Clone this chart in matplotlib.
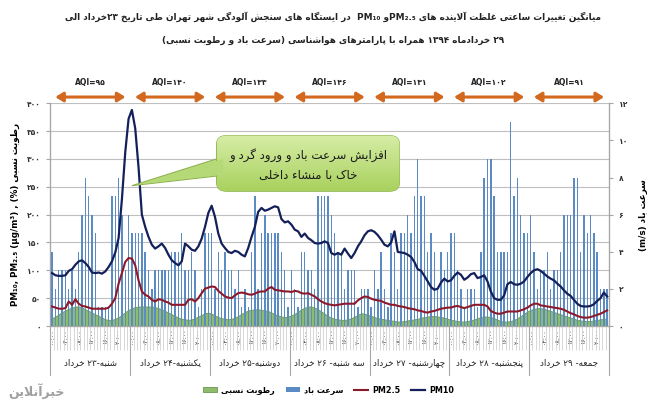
import numpy as np
import matplotlib
matplotlib.use('Agg')
import matplotlib.pyplot as plt
from matplotlib.patches import FancyBboxPatch, Polygon
from matplotlib.colors import LinearSegmentedColormap

plt.rcParams['font.family'] = ['DejaVu Sans']

# hourly averages, 7 days x 24 hours
pm10 = [95, 91, 90, 90, 91, 99, 102, 110, 116, 118, 113, 106, 96, 95, 96, 94, 98, 106, 116, 132, 158, 228, 312, 372,
        388, 355, 285, 200, 178, 160, 146, 139, 143, 148, 140, 128, 118, 113, 109, 116, 148, 143, 137, 135, 143, 157, 178, 203,
        216, 196, 166, 148, 140, 133, 131, 135, 133, 128, 125, 140, 160, 178, 205, 212, 207, 209, 212, 215, 213, 192, 186, 188,
        182, 173, 170, 160, 166, 158, 154, 149, 148, 149, 152, 149, 131, 128, 131, 128, 139, 130, 122, 131, 143, 152, 163, 170,
        172, 169, 163, 155, 146, 143, 150, 170, 133, 132, 131, 128, 124, 115, 102, 99, 90, 80, 70, 65, 67, 78, 85, 80,
        82, 90, 96, 92, 83, 87, 93, 95, 86, 88, 91, 80, 62, 50, 47, 47, 55, 75, 79, 75, 74, 76, 80, 88,
        95, 100, 102, 99, 94, 89, 85, 82, 76, 71, 64, 58, 54, 47, 40, 36, 35, 35, 36, 39, 45, 50, 60, 53]
pm25 = [35, 33, 31, 31, 32, 44, 38, 48, 40, 36, 35, 33, 31, 31, 31, 31, 31, 33, 40, 50, 76, 95, 115, 122,
        121, 109, 82, 62, 56, 53, 47, 44, 48, 47, 44, 42, 38, 38, 38, 38, 38, 47, 48, 44, 50, 59, 67, 69,
        71, 70, 63, 58, 53, 51, 50, 55, 59, 60, 59, 57, 56, 58, 61, 62, 62, 67, 70, 65, 64, 63, 62, 62,
        61, 63, 62, 59, 58, 59, 56, 53, 48, 44, 41, 39, 38, 37, 38, 39, 40, 40, 40, 40, 46, 50, 53, 52,
        49, 47, 46, 45, 42, 40, 38, 38, 36, 35, 34, 32, 31, 30, 28, 27, 25, 24, 26, 27, 29, 31, 32, 33,
        33, 35, 36, 34, 32, 34, 36, 38, 38, 38, 38, 35, 27, 24, 22, 22, 24, 26, 26, 26, 26, 28, 30, 33,
        37, 40, 40, 37, 36, 35, 34, 33, 32, 31, 29, 26, 23, 21, 18, 16, 15, 15, 16, 18, 20, 22, 25, 28]
humidity = [14, 17, 21, 25, 28, 31, 33, 35, 35, 33, 30, 27, 24, 21, 18, 15, 12, 11, 11, 13, 16, 20, 25, 29,
            32, 34, 35, 35, 35, 35, 35, 34, 32, 30, 27, 24, 21, 18, 15, 13, 12, 11, 12, 14, 17, 20, 23, 24,
            22, 19, 16, 14, 13, 12, 13, 15, 18, 22, 25, 28, 29, 30, 30, 29, 28, 27, 24, 21, 19, 17, 16, 17,
            19, 22, 26, 30, 33, 35, 35, 33, 30, 26, 22, 18, 15, 13, 12, 11, 11, 12, 14, 17, 20, 23, 22, 20,
            18, 16, 14, 13, 12, 11, 10, 9, 8, 8, 9, 10, 11, 12, 13, 15, 16, 17, 18, 18, 17, 16, 15, 13,
            11, 10, 9, 8, 8, 9, 10, 12, 14, 16, 17, 17, 16, 14, 11, 9, 8, 8, 9, 11, 14, 18, 22, 26,
            29, 31, 32, 32, 31, 29, 27, 25, 23, 21, 19, 17, 15, 13, 11, 10, 9, 9, 9, 10, 11, 12, 13, 13]
wind = [4, 2, 3, 3, 3, 2, 3, 2, 4, 6, 8, 7, 6, 5, 1, 1, 1, 1, 7, 7, 8, 6, 3, 6,
        5, 5, 5, 5, 4, 3, 2, 3, 3, 3, 3, 3, 4, 4, 4, 5, 3, 3, 4, 3, 1, 2, 5, 5,
        5, 2, 4, 3, 4, 3, 3, 2, 3, 1, 2, 1, 4, 7, 2, 5, 6, 5, 5, 5, 5, 4, 3, 1,
        3, 2, 1, 4, 4, 3, 3, 2, 7, 7, 7, 7, 6, 5, 4, 4, 2, 3, 3, 3, 1, 2, 2, 2,
        1, 3, 2, 4, 2, 1, 5, 4, 2, 5, 5, 6, 5, 7, 9, 7, 7, 4, 5, 4, 2, 4, 3, 4,
        5, 5, 3, 2, 1, 2, 2, 2, 1, 4, 8, 9, 9, 7, 4, 4, 4, 4, 11, 7, 8, 6, 5, 5,
        6, 4, 2, 3, 3, 4, 2, 3, 3, 4, 6, 6, 6, 8, 8, 4, 6, 5, 6, 5, 4, 2, 2, 2]

days = ['شنبه-۲۳ خرداد', 'یکشنبه-۲۴ خرداد', 'دوشنبه-۲۵ خرداد', 'سه شنبه- ۲۶ خرداد',
        'چهارشنبه- ۲۷ خرداد', 'پنجشنبه- ۲۸ خرداد', 'جمعه- ۲۹ خرداد']
aqi = ['۹۵', '۱۴۰', '۱۳۳', '۱۴۶', '۱۳۱', '۱۰۲', '۹۱']
hour_labels = ['۰۰:۰۰', '۰۴:۰۰', '۰۸:۰۰', '۱۲:۰۰', '۱۶:۰۰', '۲۰:۰۰']
left_ticks = [0, 50, 100, 150, 200, 250, 300, 350, 400]
right_ticks = [0, 2, 4, 6, 8, 10, 12]

title1 = 'میانگین تغییرات ساعتی غلظت آلاینده های PM₂.₅و PM₁₀  در ایستگاه های سنجش آلودگی شهر تهران طی تاریخ ۲۳خرداد الی'
title2 = '۲۹ خردادماه ۱۳۹۴ همراه با پارامترهای هواشناسی (سرعت باد و رطوبت نسبی)'
note1 = 'افزایش سرعت باد و ورود گرد و'
note2 = 'خاک با منشاء داخلی'

# --- minimal Persian shaping + right-to-left ordering (matplotlib has none) ---
_F = {
    'ء': (0xFE80, None, None, None), 'آ': (0xFE81, 0xFE82, None, None),
    'أ': (0xFE83, 0xFE84, None, None), 'ئ': (0xFE89, 0xFE8A, 0xFE8B, 0xFE8C),
    'ا': (0xFE8D, 0xFE8E, None, None), 'ب': (0xFE8F, 0xFE90, 0xFE91, 0xFE92),
    'ت': (0xFE95, 0xFE96, 0xFE97, 0xFE98), 'ث': (0xFE99, 0xFE9A, 0xFE9B, 0xFE9C),
    'ج': (0xFE9D, 0xFE9E, 0xFE9F, 0xFEA0), 'ح': (0xFEA1, 0xFEA2, 0xFEA3, 0xFEA4),
    'خ': (0xFEA5, 0xFEA6, 0xFEA7, 0xFEA8), 'د': (0xFEA9, 0xFEAA, None, None),
    'ذ': (0xFEAB, 0xFEAC, None, None), 'ر': (0xFEAD, 0xFEAE, None, None),
    'ز': (0xFEAF, 0xFEB0, None, None), 'س': (0xFEB1, 0xFEB2, 0xFEB3, 0xFEB4),
    'ش': (0xFEB5, 0xFEB6, 0xFEB7, 0xFEB8), 'ص': (0xFEB9, 0xFEBA, 0xFEBB, 0xFEBC),
    'ض': (0xFEBD, 0xFEBE, 0xFEBF, 0xFEC0), 'ط': (0xFEC1, 0xFEC2, 0xFEC3, 0xFEC4),
    'ظ': (0xFEC5, 0xFEC6, 0xFEC7, 0xFEC8), 'ع': (0xFEC9, 0xFECA, 0xFECB, 0xFECC),
    'غ': (0xFECD, 0xFECE, 0xFECF, 0xFED0), 'ف': (0xFED1, 0xFED2, 0xFED3, 0xFED4),
    'ق': (0xFED5, 0xFED6, 0xFED7, 0xFED8), 'ك': (0xFED9, 0xFEDA, 0xFEDB, 0xFEDC),
    'ل': (0xFEDD, 0xFEDE, 0xFEDF, 0xFEE0), 'م': (0xFEE1, 0xFEE2, 0xFEE3, 0xFEE4),
    'ن': (0xFEE5, 0xFEE6, 0xFEE7, 0xFEE8), 'ه': (0xFEE9, 0xFEEA, 0xFEEB, 0xFEEC),
    'و': (0xFEED, 0xFEEE, None, None), 'ي': (0xFEF1, 0xFEF2, 0xFEF3, 0xFEF4),
    'پ': (0xFB56, 0xFB57, 0xFB58, 0xFB59), 'چ': (0xFB7A, 0xFB7B, 0xFB7C, 0xFB7D),
    'ژ': (0xFB8A, 0xFB8B, None, None), 'ک': (0xFB8E, 0xFB8F, 0xFB90, 0xFB91),
    'گ': (0xFB92, 0xFB93, 0xFB94, 0xFB95), 'ی': (0xFBFC, 0xFBFD, 0xFBFE, 0xFBFF),
}
_LAM_ALEF = {'ا': (0xFEFB, 0xFEFC), 'آ': (0xFEF5, 0xFEF6), 'أ': (0xFEF7, 0xFEF8)}
_MIRROR = str.maketrans('()', ')(')


def _dual(c):
    return c in _F and _F[c][2] is not None


def _shape(s):
    out, k = [], 0
    while k < len(s):
        c = s[k]
        if c not in _F:
            out.append(c)
            k += 1
            continue
        pj = k > 0 and _dual(s[k - 1])
        nxt = s[k + 1] if k + 1 < len(s) else ''
        if c == 'ل' and nxt in _LAM_ALEF:
            iso, fin = _LAM_ALEF[nxt]
            out.append(chr(fin if pj else iso))
            k += 2
            continue
        f = _F[c]
        nj = _dual(c) and nxt in _F and _F[nxt][1] is not None
        if f[1] is None:
            pj = False
        if pj and nj:
            g = f[3]
        elif pj:
            g = f[1]
        elif nj:
            g = f[2]
        else:
            g = f[0]
        out.append(chr(g))
        k += 1
    return ''.join(out)


def _kind(c):
    o = ord(c)
    if 0x06F0 <= o <= 0x06F9 or 0x2080 <= o <= 0x2089 or (c.isascii() and c.isalnum()) or c in 'μ²³':
        return 'L'
    if 0x0600 <= o <= 0x06FF or 0xFB50 <= o <= 0xFDFF or 0xFE70 <= o <= 0xFEFF:
        return 'R'
    return 'N'


def fa(s):
    runs = []
    for c in _shape(s):
        t = _kind(c)
        if runs and runs[-1][0] == t:
            runs[-1][1] += c
        else:
            runs.append([t, c])
    for j, r in enumerate(runs):
        if r[0] == 'N':
            prv = runs[j - 1][0] if j > 0 else 'R'
            nxt = runs[j + 1][0] if j + 1 < len(runs) else 'R'
            r[0] = 'L' if prv == 'L' and nxt == 'L' else 'R'
    merged = []
    for t, txt in runs:
        if merged and merged[-1][0] == t:
            merged[-1][1] += txt
        else:
            merged.append([t, txt])
    return ''.join(txt[::-1].translate(_MIRROR) if t == 'R' else txt for t, txt in reversed(merged))


def fa_num(v):
    return str(v).translate(str.maketrans('0123456789', '۰۱۲۳۴۵۶۷۸۹'))


# --- figure ---
x = np.arange(len(pm10))
n_days = len(days)
fig = plt.figure(figsize=(6.47, 4.09), dpi=100)
ax = fig.add_axes([0.078, 0.203, 0.863, 0.5445])
axw = ax.twinx()
axl = ax.twinx()

c_grid = '#BFBFBF'
area = ax.fill_between(x, humidity, color='#8FBB6C', edgecolor='#6A984C', lw=0.6, zorder=2)
ax.set_ylim(0, 400)
ax.set_xlim(-0.5, len(x) - 0.5)
ax.set_yticks(left_ticks)
ax.set_yticklabels([fa_num(v) for v in left_ticks], fontsize=5.5, fontweight='bold', color='#333333')
ax.yaxis.grid(True, color=c_grid, lw=0.8)
ax.set_axisbelow(True)

bars = axw.bar(x, wind, width=0.42, color='#5B8BC4', zorder=3)
axw.set_ylim(0, 12)
axw.set_yticks(right_ticks)
axw.set_yticklabels([fa_num(v) for v in right_ticks], fontsize=5.5, fontweight='bold', color='#333333')
axw.set_ylabel('(m/s) ' + fa('سرعت باد'), fontsize=6.3, fontweight='bold', labelpad=8)

l25, = axl.plot(x, pm25, color='#8B1A2B', lw=1.5, zorder=5)
l10, = axl.plot(x, pm10, color='#14205A', lw=1.6, zorder=6)
axl.set_ylim(0, 400)
axl.set_xlim(-0.5, len(x) - 0.5)
axl.set_yticks([])

for a in (ax, axw, axl):
    a.spines['top'].set_visible(False)
    for side in ('left', 'right', 'bottom'):
        a.spines[side].set_color('#A6A6A6')
        a.spines[side].set_linewidth(0.8)
ax.tick_params(axis='y', length=3, color='#A6A6A6', pad=4)
axw.tick_params(axis='y', length=3, color='#A6A6A6', pad=4)

ax.set_ylabel('PM₁₀, PM₂.₅ (μg/m³) , (%) ' + fa('رطوبت نسبی'), fontsize=6.3, fontweight='bold', labelpad=5)

# category axis: hours + days
major = [d * 24 + h for d in range(n_days) for h in range(0, 24, 4)]
ax.set_xticks(major)
ax.set_xticklabels(hour_labels * n_days, rotation=90, fontsize=4.5, color='#333333')
ax.set_xticks(np.arange(-0.5, len(x), 1), minor=True)
ax.tick_params(axis='x', which='major', length=0, pad=2)
ax.tick_params(axis='x', which='minor', length=17, color='#C8C8C8', width=0.5)
trans = ax.get_xaxis_transform()
for d in range(n_days + 1):
    ax.plot([d * 24 - 0.5] * 2, [0, -0.22], transform=trans, color='#A6A6A6', lw=0.8, clip_on=False)
for d in range(n_days):
    ax.text(d * 24 + 11.5, -0.165, fa(days[d]), transform=trans, ha='center', va='center',
            fontsize=6.3, color='#222222')
    ax.annotate('', xy=(d * 24 + 22.9, 1.028), xytext=(d * 24 + 0.1, 1.028), xycoords=trans,
                textcoords=trans, annotation_clip=False,
                arrowprops=dict(arrowstyle='<|-|>,head_length=0.45,head_width=0.28', color='#D2691E', lw=2.2))
    ax.text(d * 24 + 11.5, 1.095, 'AQI=' + aqi[d], transform=trans, ha='center', va='center',
            fontsize=5.5, fontweight='bold', color='#222222')

# callout
bx0, bx1, by0, by1 = 49.5, 104.5, 242, 342
tip = (24, 252)
green = LinearSegmentedColormap.from_list('g', ['#A9D15E', '#D6EDA6'])
axl.add_patch(Polygon([tip, (50.5, 302), (50.5, 270)], closed=True, facecolor='#B9DB7C',
                      edgecolor='#8FB351', lw=0.8, zorder=7))
box = FancyBboxPatch((bx0, by0), bx1 - bx0, by1 - by0, boxstyle='round,pad=0,rounding_size=3',
                     mutation_aspect=5, facecolor='#C0DF86', edgecolor='#8FB351', lw=0.8, zorder=8)
axl.add_patch(box)
grad = np.linspace(0, 1, 64).reshape(-1, 1)
im = axl.imshow(grad, extent=[bx0, bx1, by0, by1], origin='lower', aspect='auto', cmap=green, zorder=8.5)
im.set_clip_path(box)
axl.add_patch(Polygon([(tip[0] + 1.2, tip[1] + 1.5), (51.5, 300), (51.5, 272)], closed=True,
                      facecolor='#B6D977', edgecolor='none', zorder=9))
axl.set_xlim(-0.5, len(x) - 0.5)
axl.set_ylim(0, 400)
axl.text((bx0 + bx1) / 2, 307, fa(note1), ha='center', va='center', fontsize=8.5, color='#1A1A1A', zorder=10)
axl.text((bx0 + bx1) / 2, 271, fa(note2), ha='center', va='center', fontsize=8.5, color='#1A1A1A', zorder=10)

# titles
fig.text(0.515, 0.958, fa(title1), ha='center', va='center', fontsize=6.4, fontweight='bold', color='#222222')
fig.text(0.515, 0.902, fa(title2), ha='center', va='center', fontsize=6.4, fontweight='bold', color='#222222')

# legend
fig.legend([area, bars, l25, l10], [fa('رطوبت نسبی'), fa('سرعت باد'), 'PM2.5', 'PM10'],
           loc='center', bbox_to_anchor=(0.508, 0.046), ncol=4, frameon=False,
           handlelength=1.7, handleheight=0.6, handletextpad=0.5, columnspacing=1.4,
           prop={'weight': 'bold', 'size': 5.8})

# site logo
fig.text(0.012, 0.045, fa('خبرآنلاین'), ha='left', va='center', fontsize=9, fontweight='bold',
         color='#A0A0A0')

fig.savefig('out.png', dpi=100)
